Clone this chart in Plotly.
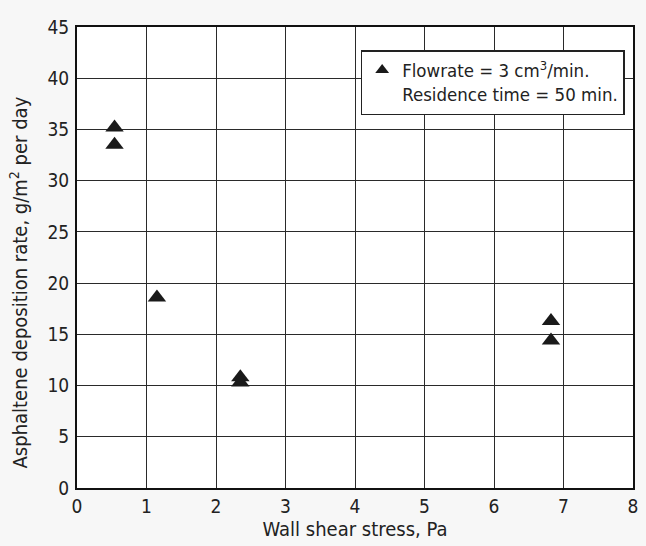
import plotly.graph_objects as go

shear_stress = [0.54, 0.54, 1.15, 2.35, 2.35, 6.82, 6.82]
deposition_rate = [35.2, 33.5, 18.6, 10.8, 10.3, 16.3, 14.4]
x_ticks = [0, 1, 2, 3, 4, 5, 6, 7, 8]
y_ticks = [0, 5, 10, 15, 20, 25, 30, 35, 40, 45]

FONT = "DejaVu Sans Condensed, Liberation Sans Narrow, Arial Narrow, sans-serif"

fig = go.Figure()
fig.add_trace(go.Scatter(
    x=shear_stress, y=deposition_rate, mode="markers",
    marker=dict(symbol="triangle-up", size=16, color="#1a1a1a"),
    name="Flowrate = 3 cm<sup>3</sup>/min.<br>Residence time = 50 min.",
    showlegend=True,
))

axis_common = dict(
    showgrid=True, gridcolor="#2a2a2a", gridwidth=1,
    showline=True, linecolor="#111111", linewidth=2, mirror=True,
    ticks="", zeroline=False,
    tickfont=dict(family=FONT, size=19, color="#222222"),
)

fig.update_layout(
    width=646, height=546,
    margin=dict(l=77, r=8, t=27, b=58),
    paper_bgcolor="#f7f7f7", plot_bgcolor="#ffffff",
    font=dict(family=FONT, color="#222222"),
    xaxis=dict(range=[0, 8], tickvals=x_ticks, **axis_common,
               title=dict(text="Wall shear stress, Pa", font=dict(family=FONT, size=20), standoff=4)),
    yaxis=dict(range=[0, 45], tickvals=y_ticks, **axis_common, ticklabelstandoff=2),
    annotations=[dict(
        text="Asphaltene deposition rate, g/m<sup>2</sup> per day",
        textangle=-90, xref="paper", yref="paper",
        x=-0.105, y=0.445, xanchor="center", yanchor="middle",
        showarrow=False, font=dict(family=FONT, size=20, color="#222222"),
    )],
    showlegend=True,
    legend=dict(x=0.985, y=0.95, xanchor="right", yanchor="top",
                bgcolor="#ffffff", bordercolor="#222222", borderwidth=1.5,
                font=dict(family=FONT, size=18.5, color="#222222"),
                valign="top", itemsizing="constant", itemwidth=30),
)

fig.write_html("out.html")
